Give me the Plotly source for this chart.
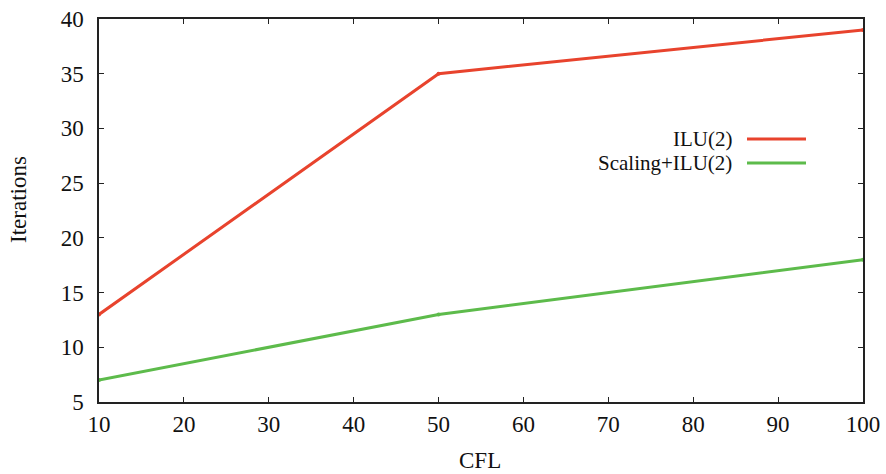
import plotly.graph_objects as go

# CFL number vs. solver iterations for two preconditioners
cfl = [10, 50, 100]
ilu2_iters = [13, 35, 39]
scaling_ilu2_iters = [7, 13, 18]

series_names = ["ILU(2)", "Scaling+ILU(2)"]
series_colors = ["#e8432d", "#5dbb4b"]

x_ticks = [10, 20, 30, 40, 50, 60, 70, 80, 90, 100]
y_ticks = [5, 10, 15, 20, 25, 30, 35, 40]

FONT = "Liberation Serif"
TXT = "#111111"

# Plot-area geometry in pixels
W, H = 886, 474
L, R, T, B = 99, 23, 19, 72
PW, PH = W - L - R, H - T - B


def px_to_paper(x, y):
    return (x - L) / PW, (H - B - y) / PH


fig = go.Figure()
for name, ys, color in zip(series_names, [ilu2_iters, scaling_ilu2_iters], series_colors):
    fig.add_trace(go.Scatter(
        x=cfl, y=ys, name=name, mode="lines+markers",
        line=dict(color=color, width=3),
        marker=dict(size=4, color=color),
        showlegend=False,
    ))

# Gnuplot-style key: right-aligned labels with line samples to their right
key_rows = [139, 163]
for name, color, row in zip(series_names, series_colors, key_rows):
    tx, ty = px_to_paper(734, row)
    fig.add_annotation(
        x=tx, y=ty, xref="paper", yref="paper", xanchor="right", yanchor="middle",
        text=name, showarrow=False, font=dict(family=FONT, size=21, color=TXT),
    )
    x0, _ = px_to_paper(747, row)
    x1, _ = px_to_paper(806, row)
    fig.add_shape(
        type="line", xref="paper", yref="paper", x0=x0, x1=x1, y0=ty, y1=ty,
        line=dict(color=color, width=3),
    )

# Y-axis title as a rotated label at the left edge
ix, iy = px_to_paper(18, 200)
fig.add_annotation(
    x=ix, y=iy, xref="paper", yref="paper", xanchor="center", yanchor="middle",
    text="Iterations", textangle=-90, showarrow=False,
    font=dict(family=FONT, size=23, color=TXT),
)

# X-axis title
cx, cy = px_to_paper(480, 460)
fig.add_annotation(
    x=cx, y=cy, xref="paper", yref="paper", xanchor="center", yanchor="middle",
    text="CFL", showarrow=False, font=dict(family=FONT, size=23, color=TXT),
)

axis_common = dict(
    showgrid=False, zeroline=False, showline=True, linecolor="#222222", linewidth=1.5,
    mirror="ticks", ticks="inside", ticklen=5, tickcolor="#222222", tickwidth=1.2,
    tickfont=dict(family=FONT, size=23, color=TXT), automargin=False,
)

fig.update_xaxes(range=[10, 100], tickvals=x_ticks, ticklabelstandoff=1, **axis_common)
fig.update_yaxes(range=[5, 40], tickvals=y_ticks, ticklabelstandoff=9, **axis_common)

fig.update_layout(
    width=W, height=H,
    margin=dict(l=L, r=R, t=T, b=B),
    plot_bgcolor="white", paper_bgcolor="white",
)

fig.write_html("out.html")
